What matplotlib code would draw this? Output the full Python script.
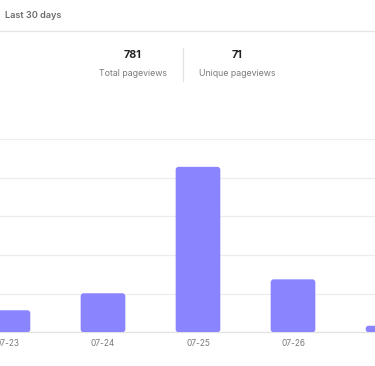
import matplotlib
matplotlib.use("Agg")
import matplotlib.pyplot as plt
from matplotlib.patches import FancyBboxPatch
from matplotlib.lines import Line2D

plt.rcParams['font.family'] = ['Inter', 'DejaVu Sans']

# data
days = ["07-23", "07-24", "07-25", "07-26", "07-27"]
pageviews = [57, 101, 428, 137, 17]
y_ticks = [0, 100, 200, 300, 400, 500]

total_views = "781"
unique_views = "71"

W, H = 375, 366
fig = plt.figure(figsize=(W / 100, H / 100), dpi=100)

# header
fig.text(5 / W, 1 - 15 / H, "Last 30 days", fontsize=6.6, fontweight="semibold",
         color="#6b6b6b", ha="left", va="center")
fig.add_artist(Line2D([0, 1], [1 - 31 / H] * 2, color="#e6e6e6", lw=0.9))

# summary numbers
for cx, num, lab in [(133, total_views, "Total pageviews"), (237, unique_views, "Unique pageviews")]:
    fig.text(cx / W, 1 - 55 / H, num, fontsize=7.8, fontweight="bold",
             color="#222222", ha="center", va="center")
    fig.text(cx / W, 1 - 73 / H, lab, fontsize=6.3, color="#7a7a7a",
             ha="center", va="center")
fig.add_artist(Line2D([183 / W] * 2, [1 - 48 / H, 1 - 81 / H], color="#e3e3e3", lw=0.9))

# bar chart
ax = fig.add_axes([0, (H - 332.3) / H, 1, (332.3 - 139) / H])
x = list(range(len(days)))
bars = ax.bar(x, pageviews, width=0.47, color="none")

ax.set_yticks(y_ticks)
ax.yaxis.grid(True, color="#ededed", lw=0.9)
ax.set_axisbelow(True)
ax.set_xticks(x)
ax.set_xticklabels(days)
# limits after the ticks, set_xticks would widen them
xmin, xmax = -0.084, 3.863
ax.set_xlim(xmin, xmax)
ax.set_ylim(0, 500)

# rounded bars
px_x = (xmax - xmin) / W
px_y = 500 / (332.3 - 139)
for b in bars:
    ax.add_patch(FancyBboxPatch((b.get_x(), 0), b.get_width(), b.get_height(),
                                boxstyle="round,pad=0,rounding_size=%f" % (3 * px_x),
                                mutation_aspect=px_y / px_x,
                                fc="#8a84ff", ec="none", zorder=3))

ax.tick_params(axis="x", length=0, pad=5, labelsize=6, labelcolor="#7a7a7a")
ax.tick_params(axis="y", length=0, labelleft=False)
for s in ["top", "left", "right"]:
    ax.spines[s].set_visible(False)
ax.spines["bottom"].set_color("#e3e3e3")
ax.spines["bottom"].set_linewidth(0.9)

fig.savefig("out.png", dpi=100)
